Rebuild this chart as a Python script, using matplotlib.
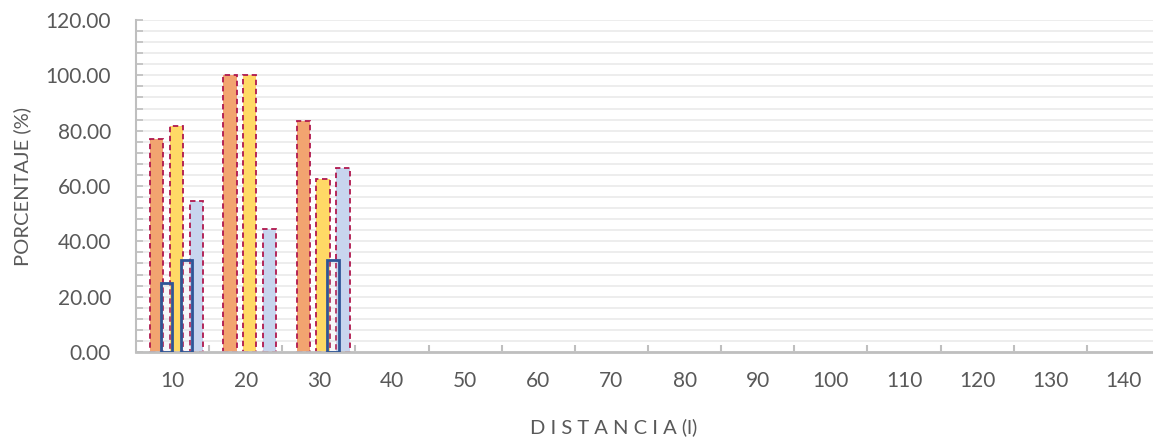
import numpy as np
import matplotlib.pyplot as plt
from matplotlib.ticker import MultipleLocator, FixedLocator, FuncFormatter

plt.rcParams['font.family'] = ['Lato', 'DejaVu Sans']

# distancias (categorias) y porcentajes por serie
distancias = [10, 20, 30, 40, 50, 60, 70, 80, 90, 100, 110, 120, 130, 140]
serie_naranja = [76.92, 100.00, 83.33, 0, 0, 0, 0, 0, 0, 0, 0, 0, 0, 0]
serie_amarilla = [81.82, 100.00, 62.50, 0, 0, 0, 0, 0, 0, 0, 0, 0, 0, 0]
serie_celeste = [54.55, 44.44, 66.67, 0, 0, 0, 0, 0, 0, 0, 0, 0, 0, 0]
serie_borde_a = [25.00, 0, 0, 0, 0, 0, 0, 0, 0, 0, 0, 0, 0, 0]
serie_borde_b = [33.33, 0, 33.33, 0, 0, 0, 0, 0, 0, 0, 0, 0, 0, 0]

x = np.arange(len(distancias))

fig = plt.figure(figsize=(11.53, 4.40), dpi=100)
ax = fig.add_axes([136 / 1153, 88 / 440, 1024 / 1153, 332 / 440])

borde = '#B0184E'
ancho = 0.18


def barras(valores, desplaz, color, **kw):
    v = np.array(valores, dtype=float)
    m = v > 0
    ax.bar(x[m] + desplaz, v[m], width=ancho, color=color, zorder=2, **kw)


barras(serie_naranja, -0.215, '#F2A470', edgecolor=borde, linewidth=1.3, linestyle=(0, (3, 2)))
barras(serie_amarilla, 0.057, '#FFD966', edgecolor=borde, linewidth=1.3, linestyle=(0, (3, 2)))
barras(serie_celeste, 0.33, '#C8D5EE', edgecolor=borde, linewidth=1.3, linestyle=(0, (3, 2)))

# serie secundaria: solo contorno
for vals, d in [(serie_borde_a, -0.085), (serie_borde_b, 0.19)]:
    v = np.array(vals, dtype=float)
    m = v > 0
    ax.bar(x[m] + d, v[m], width=0.16, facecolor=(0.78, 0.80, 0.86, 0.15),
           edgecolor='#2F5597', linewidth=2.0, zorder=3)

ax.set_xlim(-0.5, len(distancias) - 0.5)
ax.set_ylim(0, 120)
ax.set_xticks(x)
ax.set_xticklabels([str(d) for d in distancias])
ax.xaxis.set_minor_locator(FixedLocator(x[:-1] + 0.5))
ax.yaxis.set_major_locator(MultipleLocator(20))
ax.yaxis.set_minor_locator(MultipleLocator(4))
ax.yaxis.set_major_formatter(FuncFormatter(lambda v, p: f'{v:.2f}'))

ax.tick_params(axis='x', which='major', length=0, pad=14, labelsize=15, labelcolor='#595959')
ax.tick_params(axis='x', which='minor', direction='in', length=5, width=1.5, color='#BFBFBF')
ax.tick_params(axis='y', which='major', direction='in', length=5, width=1.2, color='#BFBFBF',
               pad=18, labelsize=15, labelcolor='#595959')
ax.tick_params(axis='y', which='minor', direction='in', length=5, width=1.2, color='#BFBFBF')

ax.grid(axis='y', which='both', color='#EDEDED', linewidth=1.4, zorder=0)
ax.set_axisbelow(True)

for s in ['top', 'right']:
    ax.spines[s].set_visible(False)
ax.spines['left'].set_color('#BFBFBF')
ax.spines['left'].set_linewidth(1.5)
ax.spines['bottom'].set_color('#BFBFBF')
ax.spines['bottom'].set_linewidth(2)

ax.set_ylabel('PORCENTAJE (%)', fontsize=14.5, color='#595959', labelpad=10)
fig.text(614 / 1153, 1 - 427 / 440, 'D I S T A N C I A (l)', ha='center', va='center',
         fontsize=14.5, color='#595959')

fig.savefig('out.png', dpi=100)
